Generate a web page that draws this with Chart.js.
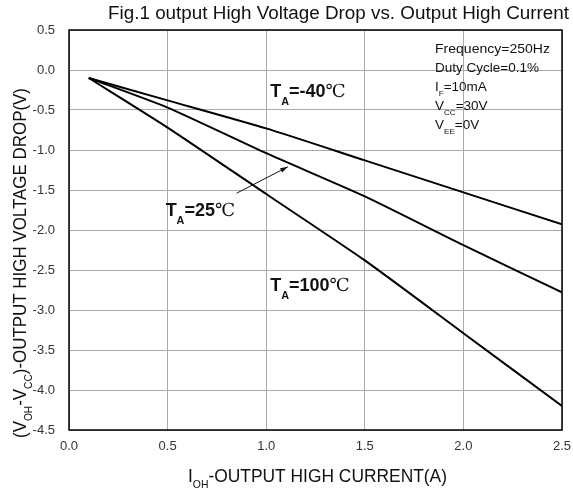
<!DOCTYPE html>
<html>
<head>
<meta charset="utf-8">
<script src="https://cdn.jsdelivr.net/npm/chart.js@4/dist/chart.umd.min.js"></script>
<style>
  html, body { margin: 0; padding: 0; background: #fff; }
  #wrap { width: 573px; height: 492px; }
</style>
</head>
<body>
<div id="wrap"><canvas id="chart" width="573" height="492"></canvas></div>
<script>
// ข้อมูลอ่านจากกราฟ
const currentA = [0.1, 0.5, 1.0, 1.5, 2.0, 2.5];
const dropM40 = [-0.1, -0.38, -0.73, -1.13, -1.53, -1.93];
const drop25 = [-0.1, -0.47, -1.04, -1.58, -2.19, -2.78];
const drop100 = [-0.1, -0.72, -1.55, -2.38, -3.29, -4.2];
const xTicks = [0, 0.5, 1.0, 1.5, 2.0, 2.5];
const yTicks = [0.5, 0, -0.5, -1.0, -1.5, -2.0, -2.5, -3.0, -3.5, -4.0, -4.5];

const FONT = '"Liberation Sans", Arial, sans-serif';

function pts(ys) { return currentA.map((x, i) => ({ x: x, y: ys[i] })); }

// วาดข้อความที่มีตัวห้อย parts = [[text, isSub, fontFamily?], ...]
function richWidth(ctx, parts, size, bold) {
    let w = 0;
    parts.forEach(p => {
        ctx.font = (bold && !p[2] ? 'bold ' : '') + (p[1] ? size * 0.6 : size) + 'px ' + (p[2] || FONT);
        w += ctx.measureText(p[0]).width;
    });
    return w;
}
function drawRich(ctx, parts, x, y, size, bold, targetW, subOff) {
    const w = richWidth(ctx, parts, size, bold);
    const off = subOff || 0.3;
    ctx.save();
    ctx.translate(x, y);
    if (targetW) ctx.scale(targetW / w, 1);
    let cx = 0;
    parts.forEach(p => {
        let s = p[1] ? size * 0.6 : size;
        ctx.font = (bold && !p[2] ? 'bold ' : '') + s + 'px ' + (p[2] || FONT);
        ctx.fillText(p[0], cx, p[1] ? size * off : 0);
        cx += ctx.measureText(p[0]).width;
    });
    ctx.restore();
}

const textPlugin = {
    id: 'texts',
    afterDraw(chart) {
        const ctx = chart.ctx;
        const xs = chart.scales.x, ys = chart.scales.y;
        const a = chart.chartArea;
        ctx.save();
        ctx.fillStyle = '#111';
        ctx.textBaseline = 'alphabetic';
        ctx.textAlign = 'left';

        // ชื่อกราฟ
        drawRich(ctx, [['Fig.1 output High Voltage Drop vs. Output High Current', 0]], 108, 19, 18, false, 461);

        // ชื่อแกน x
        drawRich(ctx, [['I', 0], ['OH', 1], ['-OUTPUT HIGH CURRENT(A)', 0]], 188, 482, 18, false, 259, 0.35);

        // ชื่อแกน y (หมุน)
        ctx.save();
        ctx.translate(26, 438);
        ctx.rotate(-Math.PI / 2);
        drawRich(ctx, [['(V', 0], ['OH', 1], ['-V', 0], ['CC', 1], [')-OUTPUT HIGH VOLTAGE DROP(V)', 0]], 0, 0, 17.5, false, 350, 0.35);
        ctx.restore();

        // เงื่อนไขการทดสอบ
        const cond = [
            [['Frequency=250Hz', 0]],
            [['Duty Cycle=0.1%', 0]],
            [['I', 0], ['F', 1], ['=10mA', 0]],
            [['V', 0], ['CC', 1], ['=30V', 0]],
            [['V', 0], ['EE', 1], ['=0V', 0]]
        ];
        cond.forEach((c, i) => drawRich(ctx, c, 435, 53 + i * 19, 13.5, false, i === 0 ? 115 : null, 0.4));

        // ป้ายอุณหภูมิ
        const lab = (txt, xv, yv) => {
            drawRich(ctx, [['T', 0], ['A', 1], [txt, 0], ['\u2103', 0, '"DejaVu Serif", serif']],
                xs.getPixelForValue(xv), ys.getPixelForValue(yv), 18, true, null, 0.45);
        };
        lab('=-40', 1.02, -0.34);
        lab('=25', 0.49, -1.82);
        lab('=100', 1.02, -2.76);

        // ลูกศรชี้เส้น 25
        const x1 = xs.getPixelForValue(0.85), y1 = ys.getPixelForValue(-1.54);
        const x2 = xs.getPixelForValue(1.11), y2 = ys.getPixelForValue(-1.21);
        ctx.strokeStyle = '#111';
        ctx.lineWidth = 1;
        ctx.beginPath(); ctx.moveTo(x1, y1); ctx.lineTo(x2, y2); ctx.stroke();
        const ang = Math.atan2(y2 - y1, x2 - x1);
        ctx.beginPath();
        ctx.moveTo(x2, y2);
        ctx.lineTo(x2 - 8 * Math.cos(ang - 0.3), y2 - 8 * Math.sin(ang - 0.3));
        ctx.lineTo(x2 - 8 * Math.cos(ang + 0.3), y2 - 8 * Math.sin(ang + 0.3));
        ctx.closePath(); ctx.fill();

        // กรอบกราฟ
        ctx.strokeStyle = '#000';
        ctx.lineWidth = 1.5;
        ctx.strokeRect(a.left, a.top, a.right - a.left, a.bottom - a.top);
        ctx.restore();
    }
};

const lineStyle = { borderColor: '#000', borderWidth: 2, pointRadius: 0, showLine: true, fill: false, tension: 0.2 };

new Chart(document.getElementById('chart'), {
    type: 'scatter',
    data: {
        datasets: [
            Object.assign({ label: '-40', data: pts(dropM40) }, lineStyle),
            Object.assign({ label: '25', data: pts(drop25) }, lineStyle),
            Object.assign({ label: '100', data: pts(drop100) }, lineStyle)
        ]
    },
    options: {
        responsive: false,
        animation: false,
        layout: { padding: { left: 0, top: 30, right: 11, bottom: 0 } },
        plugins: { legend: { display: false }, tooltip: { enabled: false } },
        scales: {
            x: {
                type: 'linear', min: 0, max: 2.5,
                afterFit: s => { s.height = 62; s.paddingRight = 0; s.paddingLeft = 0; },
                afterBuildTicks: s => { s.ticks = xTicks.map(v => ({ value: v })); },
                grid: { color: '#aaa', lineWidth: 1, drawTicks: false },
                border: { display: false },
                ticks: { padding: 9, color: '#333', font: { family: FONT, size: 13 }, callback: v => v.toFixed(1) }
            },
            y: {
                type: 'linear', min: -4.5, max: 0.5,
                afterFit: s => { s.width = 69; s.paddingTop = 0; s.paddingBottom = 0; },
                afterBuildTicks: s => { s.ticks = yTicks.map(v => ({ value: v })); },
                grid: { color: '#aaa', lineWidth: 1, drawTicks: false },
                border: { display: false },
                ticks: { padding: 14, color: '#333', font: { family: FONT, size: 13 }, callback: v => v.toFixed(1) }
            }
        }
    },
    plugins: [textPlugin]
});
</script>
</body>
</html>
